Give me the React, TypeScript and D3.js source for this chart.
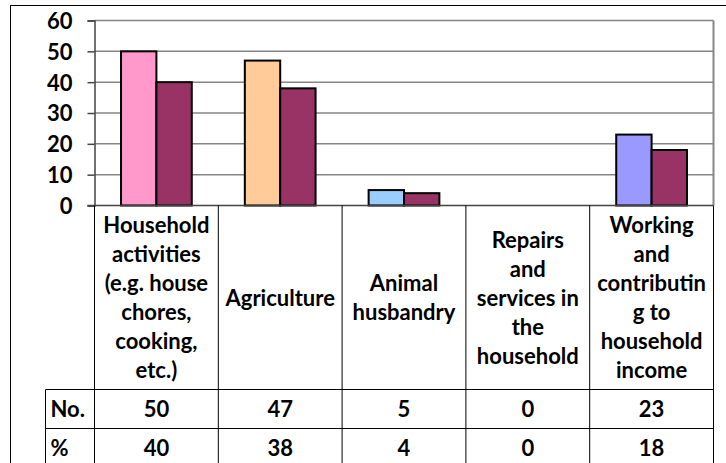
import React, { useEffect, useRef } from 'react';
import * as d3 from 'd3';

// chart data
const categories = ['household', 'agriculture', 'animal', 'repairs', 'working'];
const categoryLines = [
  ['Household', 'activities', '(e.g. house', 'chores,', 'cooking,', 'etc.)'],
  ['Agriculture'],
  ['Animal', 'husbandry'],
  ['Repairs', 'and', 'services in', 'the', 'household'],
  ['Working', 'and', 'contributin', 'g to', 'household', 'income'],
];
const countValues = [50, 47, 5, 0, 23];
const percentValues = [40, 38, 4, 0, 18];
const rowLabels = ['No.', '%'];
const yTicks = [0, 10, 20, 30, 40, 50, 60];
const countColors = ['#FF99CC', '#FFCC99', '#99CCFF', '#CCCCFF', '#9999FF'];
const percentColor = '#993366';

const App: React.FC = () => {
  const chartRef = useRef<SVGSVGElement | null>(null);

  useEffect(() => {
    if (!chartRef.current) return;
    const svg = d3.select(chartRef.current);
    svg.selectAll('*').remove();

    const W = 726;
    const H = 463;
    const plot = { left: 94.5, right: 713.5, top: 20.5, bottom: 205.5 };
    const tableLeft = 45.5;
    const rowTop = 389.5; // top of "No." row
    const rowH = 39;
    const tableBottom = rowTop + rowH * 2;
    const font = "Lato, 'Liberation Sans', sans-serif";

    svg.attr('width', W).attr('height', H);

    // outer chart border
    svg.append('rect')
      .attr('x', 10.5).attr('y', 5.5)
      .attr('width', W + 10).attr('height', H + 10)
      .attr('fill', 'white').attr('stroke', '#000').attr('stroke-width', 1);

    const x = d3.scaleBand<string>().domain(categories).range([plot.left, plot.right]);
    const xInner = d3.scaleBand<string>().domain(['no', 'pct'])
      .range([0, x.bandwidth()]).paddingInner(0).paddingOuter(0.75);
    const y = d3.scaleLinear().domain([0, 60]).range([plot.bottom, plot.top]);

    // gridlines
    svg.append('g').selectAll('line')
      .data(yTicks.filter((t) => t > 0))
      .enter().append('line')
      .attr('x1', plot.left).attr('x2', plot.right)
      .attr('y1', (d) => y(d)).attr('y2', (d) => y(d))
      .attr('stroke', '#868686').attr('stroke-width', 1.5);

    // right border of plot area
    svg.append('line')
      .attr('x1', plot.right).attr('x2', plot.right)
      .attr('y1', plot.top).attr('y2', plot.bottom)
      .attr('stroke', '#868686').attr('stroke-width', 2);

    // y axis
    const yAxis = svg.append('g')
      .attr('transform', `translate(${plot.left},0)`)
      .call(d3.axisLeft(y).tickValues(yTicks).tickSize(7).tickPadding(15));
    yAxis.select('.domain').attr('stroke', '#444').attr('stroke-width', 1.5);
    yAxis.selectAll('.tick line').attr('stroke', '#444').attr('stroke-width', 1.5);
    yAxis.selectAll('.tick text')
      .attr('fill', '#000')
      .style('font-family', font)
      .style('font-weight', '700')
      .style('font-size', '22px')
      .attr('dy', '0.36em');

    // bars
    const barData = categories.flatMap((c, i) => [
      { cat: c, key: 'no', value: countValues[i], color: countColors[i] },
      { cat: c, key: 'pct', value: percentValues[i], color: percentColor },
    ]).filter((d) => d.value > 0);

    svg.append('g').selectAll('rect')
      .data(barData)
      .enter().append('rect')
      .attr('x', (d) => (x(d.cat) || 0) + (xInner(d.key) || 0))
      .attr('y', (d) => y(d.value))
      .attr('width', xInner.bandwidth())
      .attr('height', (d) => y(0) - y(d.value))
      .attr('fill', (d) => d.color)
      .attr('stroke', '#000')
      .attr('stroke-width', 2);

    // x axis line (zero line)
    svg.append('line')
      .attr('x1', plot.left - 7).attr('x2', plot.right)
      .attr('y1', plot.bottom).attr('y2', plot.bottom)
      .attr('stroke', '#444').attr('stroke-width', 1.5);

    // data table lines
    const table = svg.append('g').attr('stroke', '#000').attr('stroke-width', 1);
    const colEdges = [...categories.map((c) => x(c) || 0), plot.right];
    table.selectAll('line.v')
      .data(colEdges)
      .enter().append('line')
      .attr('class', 'v')
      .attr('x1', (d) => d).attr('x2', (d) => d)
      .attr('y1', plot.bottom).attr('y2', tableBottom);
    table.append('line')
      .attr('x1', tableLeft).attr('x2', tableLeft)
      .attr('y1', rowTop).attr('y2', tableBottom);
    [rowTop, rowTop + rowH, tableBottom].forEach((ry) => {
      table.append('line')
        .attr('x1', tableLeft).attr('x2', plot.right)
        .attr('y1', ry).attr('y2', ry);
    });

    // category labels
    const lineH = 29;
    const labelCenter = (plot.bottom + rowTop) / 2;
    categoryLines.forEach((lines, i) => {
      const cx = (x(categories[i]) || 0) + x.bandwidth() / 2;
      svg.append('g').selectAll('text')
        .data(lines)
        .enter().append('text')
        .attr('x', cx)
        .attr('y', (_, j) => labelCenter + (j - (lines.length - 1) / 2) * lineH + 8)
        .attr('text-anchor', 'middle')
        .style('font-family', font)
        .style('font-weight', '700')
        .style('font-size', '22px')
        .text((d) => d);
    });

    // table rows
    const rows = [countValues, percentValues];
    rows.forEach((vals, r) => {
      const baseY = rowTop + r * rowH + rowH / 2 + 8;
      svg.append('text')
        .attr('x', tableLeft + 5)
        .attr('y', baseY)
        .style('font-family', font)
        .style('font-weight', '700')
        .style('font-size', '22px')
        .text(rowLabels[r]);
      svg.append('g').selectAll('text')
        .data(vals)
        .enter().append('text')
        .attr('x', (_, i) => (x(categories[i]) || 0) + x.bandwidth() / 2)
        .attr('y', baseY)
        .attr('text-anchor', 'middle')
        .style('font-family', font)
        .style('font-weight', '700')
        .style('font-size', '22px')
        .text((d) => d);
    });
  }, []);

  return (
    <div style={{ position: 'absolute', left: 0, top: 0, width: 726, height: 463, overflow: 'hidden' }}>
      <svg ref={chartRef} style={{ display: 'block' }}></svg>
    </div>
  );
};

export default App;
